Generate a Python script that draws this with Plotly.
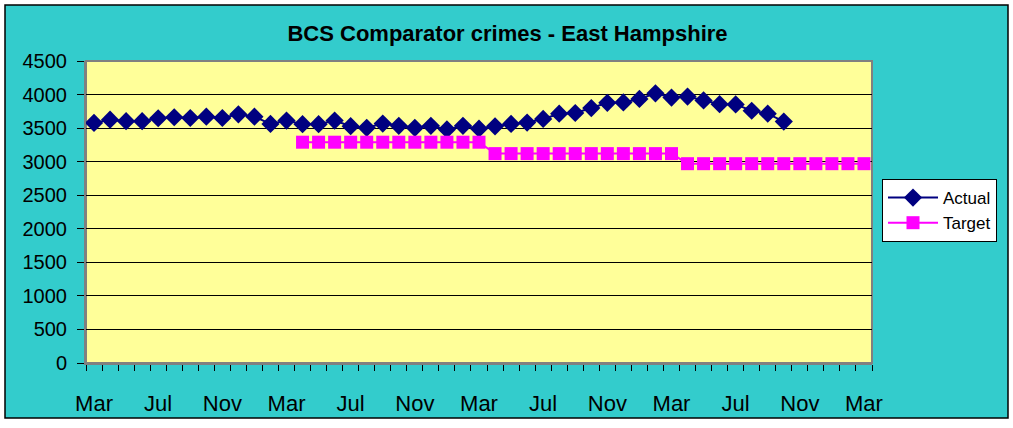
import plotly.graph_objects as go

# Monthly categories, Mar (year 1) through Mar (year 5)
months = ["Mar", "Apr", "May", "Jun", "Jul", "Aug", "Sep", "Oct", "Nov", "Dec", "Jan", "Feb"]
categories = [months[i % 12] for i in range(49)]
tick_positions = list(range(0, 49, 4))
tick_labels = [categories[i] for i in tick_positions]

# Rolling BCS comparator crime counts (first 44 months)
actual = [3578, 3626, 3603, 3603, 3647, 3662, 3651, 3671, 3651, 3706, 3671, 3563,
          3612, 3559, 3559, 3612, 3529, 3504, 3568, 3534, 3504, 3534, 3480, 3534,
          3492, 3526, 3563, 3583, 3637, 3715, 3725, 3799, 3877, 3882, 3935, 4019,
          3955, 3970, 3912, 3857, 3853, 3759, 3715, 3597]

# Target levels, stepped down each year from Apr (year 2)
target = [None] * 13 + [3290] * 12 + [3120] * 12 + [2970] * 12

x_idx = list(range(49))

fig = go.Figure()
fig.add_trace(go.Scatter(
    x=x_idx[:len(actual)], y=actual, name="Actual", mode="lines+markers",
    line=dict(color="#000080", width=2),
    marker=dict(symbol="diamond", size=14, color="#000080"),
))
fig.add_trace(go.Scatter(
    x=x_idx, y=target, name="Target", mode="lines+markers",
    line=dict(color="#FF00FF", width=2),
    marker=dict(symbol="square", size=13, color="#FF00FF"),
))

W, H = 1013, 428
L, R, T, B = 86, 141, 61, 60
pw, ph = W - L - R, H - T - B

def px_x(p):
    return (p - L) / pw

def px_y(p):
    return (H - B - p) / ph

shapes = [
    # chart area with black outline
    dict(type="rect", xref="paper", yref="paper", layer="below",
         x0=px_x(5), x1=px_x(1008), y0=px_y(424), y1=px_y(4),
         fillcolor="#33CCCC", line=dict(color="black", width=1.5)),
    # plot area
    dict(type="rect", xref="x domain", yref="y domain", layer="below",
         x0=0, x1=1, y0=0, y1=1,
         fillcolor="#FFFF99", line=dict(color="#808080", width=2)),
]

fig.update_layout(
    width=W, height=H,
    margin=dict(l=L, r=R, t=T, b=B),
    paper_bgcolor="white",
    plot_bgcolor="rgba(0,0,0,0)",
    font=dict(family="Liberation Sans, Arial, sans-serif", color="black"),
    title=dict(text="<b>BCS Comparator crimes - East Hampshire</b>",
               x=0.501, xref="container", xanchor="center",
               y=1 - 33 / H, yref="container", yanchor="middle",
               font=dict(size=22, color="black")),
    shapes=shapes,
    showlegend=True,
    legend=dict(x=px_x(882), y=px_y(181), xanchor="left", yanchor="top",
                bgcolor="white", bordercolor="black", borderwidth=1,
                font=dict(size=17), itemwidth=50, tracegroupgap=2),
    xaxis=dict(range=[-0.5, 48.5], tickmode="array", tickvals=tick_positions,
               ticktext=tick_labels, ticks="", showgrid=False, zeroline=False,
               showline=True, linecolor="#808080", linewidth=2,
               tickfont=dict(size=22), ticklabelstandoff=20,
               minor=dict(tick0=-0.5, dtick=1, ticks="outside", ticklen=6,
                          tickcolor="black", showgrid=False)),
    yaxis=dict(range=[0, 4500], dtick=500, showgrid=True, gridcolor="black",
               gridwidth=1, zeroline=False, showline=True, linecolor="#808080",
               linewidth=2, ticks="outside", ticklen=7, tickcolor="black",
               tickfont=dict(size=20), ticklabelstandoff=6),
)

fig.write_html("out.html")
